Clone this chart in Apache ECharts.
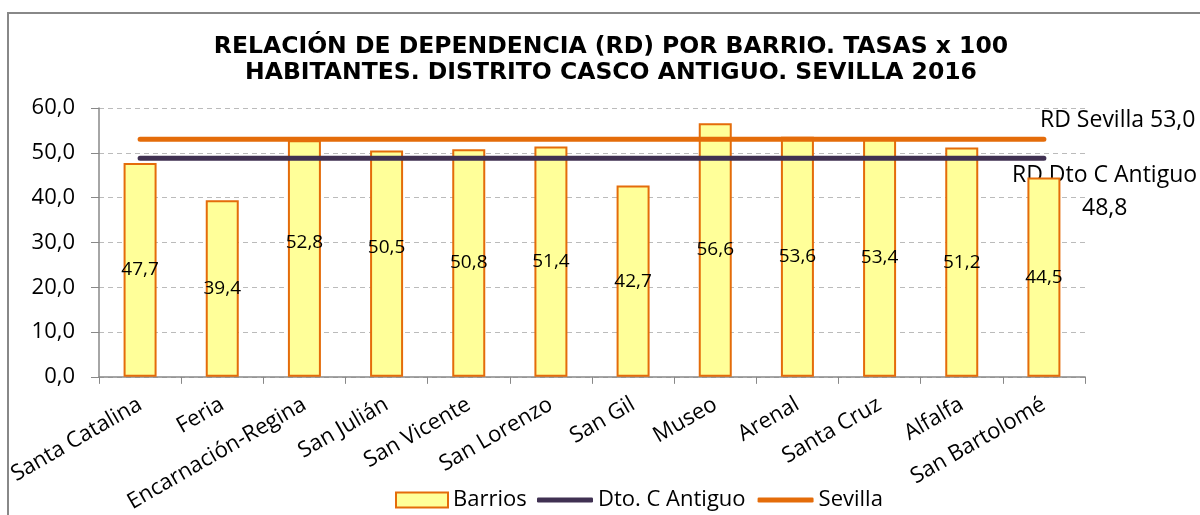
<!DOCTYPE html>
<html>
<head>
<meta charset="utf-8">
<script src="https://cdn.jsdelivr.net/npm/echarts@6/dist/echarts.min.js"></script>
<style>
  html, body { margin: 0; padding: 0; background: #fff; }
  #chart { width: 1200px; height: 515px; }
</style>
</head>
<body>
<div id="chart"></div>
<script>
// barrios del distrito Casco Antiguo
const barrios = ['Santa Catalina', 'Feria', 'Encarnación-Regina', 'San Julián', 'San Vicente',
  'San Lorenzo', 'San Gil', 'Museo', 'Arenal', 'Santa Cruz', 'Alfalfa', 'San Bartolomé'];
const rdBarrios = [47.7, 39.4, 52.8, 50.5, 50.8, 51.4, 42.7, 56.6, 53.6, 53.4, 51.2, 44.5];
const rdDistrito = [48.8, 48.8, 48.8, 48.8, 48.8, 48.8, 48.8, 48.8, 48.8, 48.8, 48.8, 48.8];
const rdSevilla = [53.0, 53.0, 53.0, 53.0, 53.0, 53.0, 53.0, 53.0, 53.0, 53.0, 53.0, 53.0];

const font = '"Open Sans", Lato, sans-serif';
const chart = echarts.init(document.getElementById('chart'));

// algunas etiquetas no caen justo en el centro de la barra
const labelShift = { 2: [0, -16], 3: [0, -16] };
const coma = v => v.toFixed(1).replace('.', ',');

const option = {
  animation: false,
  title: {
    text: 'RELACIÓN DE DEPENDENCIA (RD) POR BARRIO. TASAS x 100\nHABITANTES. DISTRITO CASCO ANTIGUO. SEVILLA 2016',
    left: 606,
    top: 29,
    textAlign: 'center',
    textStyle: {
      fontFamily: '"DejaVu Sans", sans-serif',
      fontWeight: 'bold',
      fontSize: 23.5,
      lineHeight: 26,
      color: '#000'
    }
  },
  grid: { left: 99, right: 115, top: 108, bottom: 138 },
  legend: [
    {
      left: 395,
      top: 489,
      padding: 0,
      itemWidth: 52,
      itemHeight: 15,
      textStyle: { fontFamily: font, fontSize: 22, color: '#000' },
      data: [{ name: 'Barrios', icon: 'rect' }]
    },
    {
      left: 537,
      top: 489,
      padding: 0,
      itemWidth: 56,
      itemHeight: 5,
      itemGap: 12,
      textStyle: { fontFamily: font, fontSize: 22, color: '#000' },
      data: [
        { name: 'Dto. C Antiguo', icon: 'roundRect' },
        { name: 'Sevilla', icon: 'roundRect' }
      ]
    }
  ],
  xAxis: {
    type: 'category',
    data: barrios,
    axisLine: { lineStyle: { color: '#888', width: 1.5 } },
    axisTick: { show: true, length: 7, lineStyle: { color: '#888' } },
    axisLabel: {
      rotate: 30,
      interval: 0,
      margin: 26,
      fontFamily: font,
      fontSize: 22,
      color: '#000'
    }
  },
  yAxis: {
    type: 'value',
    min: 0,
    max: 60,
    interval: 10,
    axisLine: { show: true, lineStyle: { color: '#888', width: 1.5 } },
    axisTick: { show: true, length: 8, lineStyle: { color: '#888' } },
    axisLabel: {
      fontFamily: font,
      fontSize: 22,
      color: '#000',
      margin: 24,
      formatter: coma
    },
    splitLine: { lineStyle: { color: '#bbb', type: [5, 4], width: 1 } }
  },
  series: [
    {
      name: 'Barrios',
      type: 'bar',
      barWidth: 33,
      data: rdBarrios.map((v, i) => ({
        value: v,
        label: labelShift[i] ? { offset: labelShift[i] } : undefined
      })),
      itemStyle: { color: '#ffff99', borderColor: '#e46c0a', borderWidth: 2 },
      label: {
        show: true,
        position: 'inside',
        fontFamily: font,
        fontSize: 19,
        color: '#000',
        formatter: p => coma(p.value)
      },
      z: 2
    },
    {
      name: 'Dto. C Antiguo',
      type: 'line',
      data: rdDistrito,
      symbol: 'none',
      lineStyle: { color: '#403152', width: 5, cap: 'round' },
      itemStyle: { color: '#403152' },
      z: 3
    },
    {
      name: 'Sevilla',
      type: 'line',
      data: rdSevilla,
      symbol: 'none',
      lineStyle: { color: '#e46c0a', width: 5, cap: 'round' },
      itemStyle: { color: '#e46c0a' },
      z: 3
    }
  ],
  graphic: [
    {
      type: 'rect',
      shape: { x: 8, y: 13, width: 1300, height: 600 },
      style: { fill: 'none', stroke: '#888', lineWidth: 2 },
      silent: true
    },
    {
      type: 'text',
      x: 1040, y: 120,
      style: { text: 'RD Sevilla 53,0', font: '23px ' + font, fill: '#000', verticalAlign: 'middle' }
    },
    {
      type: 'text',
      x: 1012, y: 175,
      style: { text: 'RD Dto C Antiguo', font: '23px ' + font, fill: '#000', verticalAlign: 'middle' }
    },
    {
      type: 'text',
      x: 1082, y: 208,
      style: { text: '48,8', font: '23px ' + font, fill: '#000', verticalAlign: 'middle' }
    }
  ]
};

chart.setOption(option);
</script>
</body>
</html>
